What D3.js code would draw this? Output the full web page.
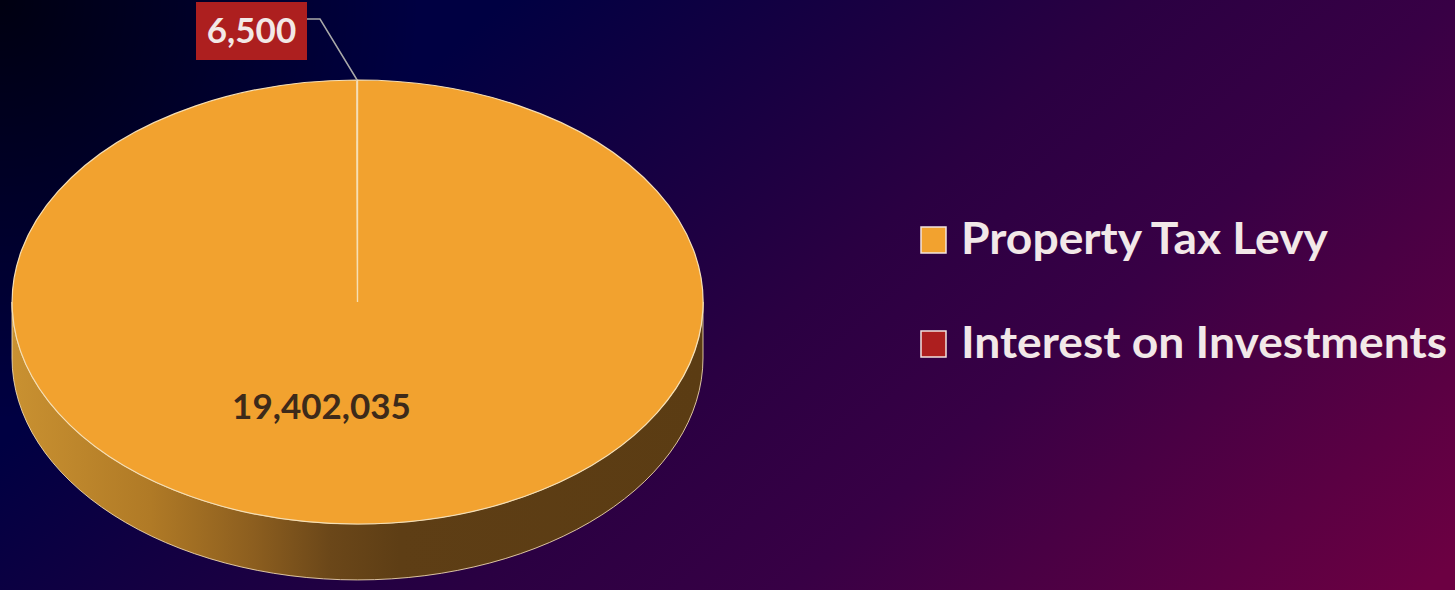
<!DOCTYPE html>
<html>
<head>
<meta charset="utf-8">
<script src="https://cdn.jsdelivr.net/npm/d3@7/dist/d3.min.js"></script>
<style>
  html, body { margin: 0; padding: 0; background: #000040; overflow: hidden; }
  svg { display: block; }
</style>
</head>
<body>
<svg id="chart" width="1455" height="590"></svg>
<script>
// ---- data ----
const categories = ["Property Tax Levy", "Interest on Investments"];
const values = [19402035, 6500];
const valueLabels = ["19,402,035", "6,500"];
const sliceColors = ["#f2a22f", "#ad1f1f"];

// ---- layout ----
const W = 1455, H = 590;
const cx = 357.5, cy = 302, rx = 345.5, ry = 222, depth = 56;

const svg = d3.select("#chart");
const defs = svg.append("defs");

// background gradient
const bg = defs.append("linearGradient").attr("id", "bg")
  .attr("gradientUnits", "userSpaceOnUse")
  .attr("x1", 222).attr("y1", 251).attr("x2", 918).attr("y2", 1037);
[[0, "#000042"], [0.4, "#2a0042"], [0.6, "#380045"], [1, "#6c0042"]]
  .forEach(([o, c]) => bg.append("stop").attr("offset", o).attr("stop-color", c));
const vig = defs.append("radialGradient").attr("id", "vig")
  .attr("gradientUnits", "userSpaceOnUse")
  .attr("cx", 0).attr("cy", 0).attr("r", 420);
vig.append("stop").attr("offset", 0).attr("stop-color", "#000000").attr("stop-opacity", 0.75);
vig.append("stop").attr("offset", 1).attr("stop-color", "#000000").attr("stop-opacity", 0);

svg.append("rect").attr("width", W).attr("height", H).attr("fill", "url(#bg)");
svg.append("rect").attr("width", W).attr("height", H).attr("fill", "url(#vig)");

// side gradient (lighting)
const sideGrad = defs.append("linearGradient").attr("id", "side0")
  .attr("gradientUnits", "userSpaceOnUse")
  .attr("x1", cx - rx).attr("y1", 0).attr("x2", cx + rx).attr("y2", 0);
[[0, "#c99131"], [0.2, "#b07a26"], [0.35, "#8c5e1f"], [0.46, "#6b4719"], [0.56, "#5e3e15"], [1, "#5b3c13"]]
  .forEach(([o, c]) => sideGrad.append("stop").attr("offset", o).attr("stop-color", c));
const sideGrad1 = defs.append("linearGradient").attr("id", "side1")
  .attr("gradientUnits", "userSpaceOnUse")
  .attr("x1", cx - rx).attr("y1", 0).attr("x2", cx + rx).attr("y2", 0);
[[0, "#8a1a1a"], [1, "#4a0e0e"]]
  .forEach(([o, c]) => sideGrad1.append("stop").attr("offset", o).attr("stop-color", c));

const pie = d3.pie().sort(null).startAngle(0).endAngle(2 * Math.PI);
const arcs = pie(values);

const pt = (a, dy = 0) => [cx + rx * Math.sin(a), cy - ry * Math.cos(a) + dy];
const edge = "#f6dfb4";

// side walls (front half only)
const sides = svg.append("g");
arcs.forEach((d, i) => {
  const a0 = Math.max(d.startAngle, Math.PI / 2);
  const a1 = Math.min(d.endAngle, 3 * Math.PI / 2);
  if (a1 <= a0) return;
  const p0 = pt(a0), p1 = pt(a1), q1 = pt(a1, depth), q0 = pt(a0, depth);
  const path = `M${p0[0]},${p0[1]} A${rx},${ry} 0 0 1 ${p1[0]},${p1[1]} L${q1[0]},${q1[1]} A${rx},${ry} 0 0 0 ${q0[0]},${q0[1]} Z`;
  sides.append("path").attr("d", path)
    .attr("fill", `url(#side${i})`)
    .attr("stroke", edge).attr("stroke-width", 1).attr("stroke-opacity", 0.85);
});

// top face
const arcGen = d3.arc().innerRadius(0).outerRadius(rx);
const topG = svg.append("g").attr("transform", `translate(${cx},${cy}) scale(1,${ry / rx})`);
topG.selectAll("path").data(arcs).join("path")
  .attr("d", arcGen)
  .attr("fill", (d, i) => sliceColors[i])
  .attr("stroke", edge).attr("stroke-width", 1.2)
  .attr("vector-effect", "non-scaling-stroke");

// data label for big slice
svg.append("text")
  .attr("x", cx - 36).attr("y", 419)
  .attr("text-anchor", "middle")
  .attr("font-family", "Lato, 'Open Sans', sans-serif")
  .attr("font-weight", 700).attr("font-size", 35)
  .attr("fill", "#3d2a1a")
  .text(valueLabels[0]);

// callout for small slice
const tip = pt((arcs[1].startAngle + arcs[1].endAngle) / 2);
svg.append("path")
  .attr("d", `M307,19 L320,19 L${tip[0]},${tip[1]}`)
  .attr("fill", "none").attr("stroke", "#a9a9a9").attr("stroke-width", 1.5);
svg.append("rect").attr("x", 196).attr("y", 2).attr("width", 111).attr("height", 58)
  .attr("fill", sliceColors[1]);
svg.append("text")
  .attr("x", 251.5).attr("y", 43)
  .attr("text-anchor", "middle")
  .attr("font-family", "Lato, 'Open Sans', sans-serif")
  .attr("font-weight", 700).attr("font-size", 35)
  .attr("fill", "#f2e8e6")
  .text(valueLabels[1]);

// legend
const legend = svg.append("g");
const legY = [254, 358];
const legW = [367, 486];
categories.forEach((c, i) => {
  legend.append("rect")
    .attr("x", 921).attr("y", legY[i] - 27).attr("width", 25).attr("height", 26)
    .attr("fill", sliceColors[i]).attr("stroke", "#f2e4e0").attr("stroke-width", 1.5);
  legend.append("text")
    .attr("x", 961).attr("y", legY[i])
    .attr("font-family", "Lato, 'Open Sans', sans-serif")
    .attr("font-weight", 700).attr("font-size", 44)
    .attr("fill", "#f2e8e8")
    .attr("textLength", legW[i]).attr("lengthAdjust", "spacingAndGlyphs")
    .text(c);
});
</script>
</body>
</html>
